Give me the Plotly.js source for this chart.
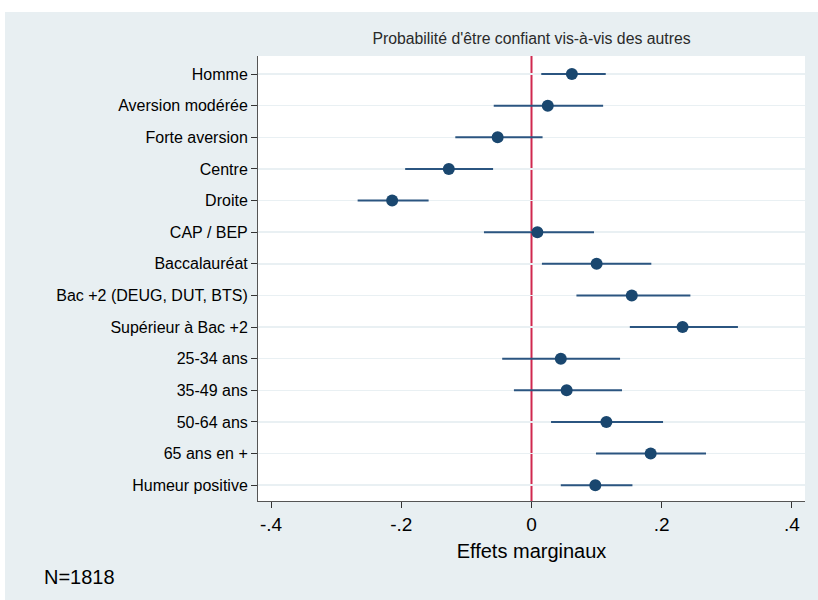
<!DOCTYPE html>
<html>
<head>
<meta charset="utf-8">
<script src="https://cdn.plot.ly/plotly-3.0.1.min.js"></script>
<style>
  html, body { margin: 0; padding: 0; background: #ffffff; }
  #chart { position: absolute; left: 5px; top: 12px; width: 813px; height: 588px; }
</style>
</head>
<body>
<div id="chart"></div>
<script>
const categories = ["Homme", "Aversion modérée", "Forte aversion", "Centre", "Droite", "CAP / BEP",
  "Baccalauréat", "Bac +2 (DEUG, DUT, BTS)", "Supérieur à Bac +2", "25-34 ans", "35-49 ans",
  "50-64 ans", "65 ans en +", "Humeur positive"];
const effects = [0.062, 0.025, -0.052, -0.127, -0.214, 0.009, 0.100, 0.154, 0.232, 0.045, 0.054, 0.115, 0.183, 0.098];
const ciLow   = [0.015, -0.058, -0.117, -0.194, -0.267, -0.073, 0.016, 0.069, 0.151, -0.045, -0.027, 0.030, 0.099, 0.045];
const ciHigh  = [0.114, 0.110, 0.017, -0.059, -0.158, 0.096, 0.184, 0.244, 0.317, 0.136, 0.139, 0.202, 0.268, 0.155];
const xTickVals = [-0.4, -0.2, 0, 0.2, 0.4];
const xTickText = ["-.4", "-.2", "0", ".2", ".4"];

const idx = categories.map((c, i) => i);
const navy = "#1a476f";
const font = "Liberation Sans, Arial, sans-serif";

const traces = [{
  type: "scatter",
  mode: "markers",
  x: effects,
  y: idx,
  marker: { color: navy, size: 12 },
  error_x: {
    type: "data", symmetric: false,
    array: effects.map((v, i) => ciHigh[i] - v),
    arrayminus: effects.map((v, i) => v - ciLow[i]),
    color: "#2b5580", thickness: 2, width: 0
  },
  hoverinfo: "x+text",
  text: categories,
  showlegend: false
}];

const layout = {
  width: 813, height: 588,
  margin: { l: 253, r: 13, t: 44, b: 99 },
  paper_bgcolor: "#e8eff2",
  plot_bgcolor: "#ffffff",
  font: { family: font, color: "#000000" },
  title: {
    text: "Probabilité d'être confiant vis-à-vis des autres",
    font: { family: "Liberation Sans Narrow, Liberation Sans, Arial, sans-serif", size: 15.8, color: "#2a2a2a" },
    x: 0.5, xanchor: "center", xref: "paper",
    y: 1, yref: "paper", yanchor: "bottom", pad: { b: 12 }
  },
  xaxis: {
    range: [-0.42, 0.42],
    tickvals: xTickVals, ticktext: xTickText,
    ticks: "outside", ticklen: 6, tickcolor: "#333333", tickwidth: 1,
    showline: true, linecolor: "#555555", linewidth: 1,
    showgrid: false, zeroline: false,
    tickfont: { size: 19, family: font, color: "#000000" },
    title: { text: "Effets marginaux", font: { size: 20, family: font, color: "#000000" }, standoff: 10 }
  },
  yaxis: {
    range: [13.5, -0.57],
    tickvals: idx, ticktext: categories,
    ticks: "outside", ticklen: 6, tickcolor: "#333333", tickwidth: 1,
    showline: true, linecolor: "#555555", linewidth: 1,
    showgrid: true, gridcolor: "#e9f0f3", gridwidth: 1.5,
    zeroline: false,
    tickfont: { size: 16, family: font, color: "#000000" }
  },
  shapes: [{
    type: "line", xref: "x", yref: "paper", x0: 0, x1: 0, y0: 0, y1: 1,
    line: { color: "#d0284f", width: 2 }, layer: "below"
  }],
  annotations: [{
    text: "N=1818", xref: "paper", yref: "paper",
    x: -0.395, y: -0.17, xanchor: "left", yanchor: "middle",
    showarrow: false, font: { size: 20, family: font, color: "#000000" }
  }]
};

Plotly.newPlot("chart", traces, layout, { displayModeBar: false, staticPlot: true });
</script>
</body>
</html>
